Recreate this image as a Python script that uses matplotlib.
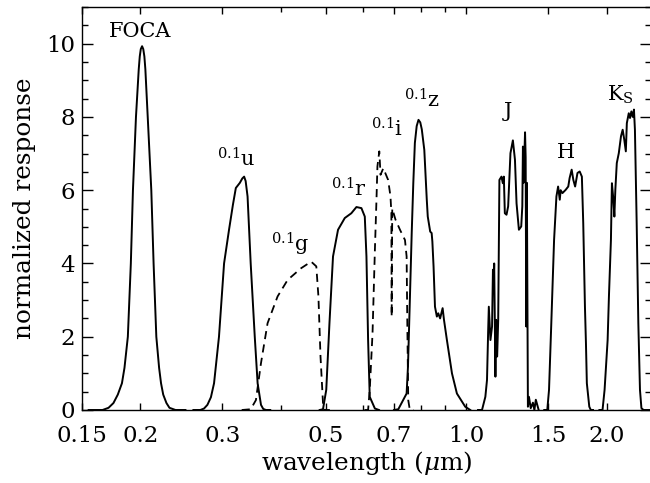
import matplotlib
matplotlib.use("Agg")
import matplotlib.pyplot as plt
from matplotlib.ticker import FixedLocator, NullFormatter, MultipleLocator

plt.rcParams['font.family'] = ['DejaVu Serif']
plt.rcParams['mathtext.fontset'] = 'dejavuserif'

# ---- filter curves (wavelength in micron, normalized response) ----
foca_wl = [0.155, 0.166, 0.171, 0.1752, 0.179, 0.1827, 0.185, 0.1881, 0.1909, 0.1929, 0.1958,
           0.1985, 0.1995, 0.2005, 0.2018, 0.203, 0.2041, 0.2051, 0.2075, 0.2112, 0.2136,
           0.2165, 0.2195, 0.2216, 0.224, 0.2276, 0.231, 0.238, 0.25]
foca_r = [0, 0, 0.06, 0.19, 0.42, 0.73, 1.15, 2.0, 4.0, 6.0, 8.0,
          9.3, 9.65, 9.85, 9.93, 9.85, 9.65, 9.3, 8.0, 6.0, 4.0,
          2.0, 1.15, 0.73, 0.42, 0.19, 0.06, 0, 0]

u_wl = [0.26, 0.269, 0.274, 0.2786, 0.2835, 0.2879, 0.295, 0.3025, 0.310, 0.316, 0.3206,
        0.327, 0.331, 0.334, 0.3365, 0.3397, 0.345, 0.352, 0.357, 0.363, 0.367, 0.372, 0.38]
u_r = [0, 0, 0.04, 0.14, 0.35, 0.73, 2.0, 4.0, 4.92, 5.6, 6.06,
       6.2, 6.32, 6.37, 6.25, 5.83, 4.0, 2.0, 0.73, 0.14, 0.03, 0, 0]

g_wl = [0.33, 0.345, 0.354, 0.363, 0.375, 0.394, 0.414, 0.4425, 0.465, 0.477, 0.482,
        0.487, 0.493, 0.497, 0.51]
g_r = [0, 0.02, 0.27, 1.28, 2.37, 3.10, 3.55, 3.87, 4.05, 3.92, 3.1,
       1.46, 0.19, 0, 0]

r_wl = [0.485, 0.493, 0.501, 0.509, 0.518, 0.531, 0.549, 0.567, 0.5815, 0.596, 0.606,
        0.611, 0.616, 0.621, 0.637, 0.65]
r_r = [0, 0.02, 0.55, 2.37, 4.19, 4.92, 5.24, 5.37, 5.54, 5.51, 5.28,
       4.19, 1.91, 0.36, 0.04, 0]

i_wl = [0.605, 0.616, 0.621, 0.6296, 0.637, 0.642, 0.645, 0.651, 0.655, 0.664, 0.680,
        0.688, 0.691, 0.692, 0.694, 0.705, 0.721, 0.739, 0.745, 0.748, 0.751, 0.757, 0.77]
i_r = [0, 0, 0.55, 2.09, 4.37, 5.74, 6.65, 7.06, 6.42, 6.6, 6.28,
       5.83, 5.37, 2.55, 5.5, 5.2, 4.92, 4.64, 4.19, 2.1, 0.27, 0, 0]

z_wl = [0.70, 0.715, 0.745, 0.750, 0.757, 0.764, 0.770, 0.776, 0.783, 0.790, 0.797, 0.803, 0.813,
        0.823, 0.827, 0.837, 0.843, 0.846, 0.851, 0.857, 0.865, 0.871, 0.879, 0.890,
        0.896, 0.909, 0.932, 0.955, 0.995, 1.02]
z_r = [0, 0.02, 0.45, 1.18, 3.0, 4.83, 6.19, 7.29, 7.75, 7.92, 7.85, 7.66, 7.10,
       5.74, 5.28, 4.87, 4.83, 4.6, 3.92, 2.82, 2.55, 2.64, 2.5, 2.78,
       2.46, 1.91, 1.0, 0.45, 0.09, 0]

j_wl = [1.06, 1.081, 1.099, 1.108, 1.114, 1.118, 1.127, 1.136, 1.141, 1.145, 1.148,
        1.155, 1.159, 1.165, 1.171, 1.178, 1.19, 1.198, 1.204, 1.210, 1.22, 1.23,
        1.244, 1.259, 1.272, 1.282, 1.297, 1.312, 1.319, 1.323, 1.327, 1.337, 1.341,
        1.345, 1.349, 1.356, 1.363, 1.375, 1.39, 1.40, 1.41, 1.43]
j_r = [0, 0, 0.36, 0.82, 2.09, 2.82, 1.91, 2.28, 3.83, 3.4, 4.0,
       0.91, 2.46, 1.46, 2.46, 6.28, 6.37, 6.19, 6.37, 5.37, 5.33, 5.56,
       7.01, 7.36, 6.83, 5.64, 4.92, 5.01, 5.56, 7.19, 6.2, 7.58, 6.9,
       2.28, 6.2, 0.09, 0.36, 0.05, 0.2, 0.0, 0.28, 0]

h_wl = [1.47, 1.492, 1.505, 1.522, 1.543, 1.561, 1.574, 1.587, 1.594, 1.608, 1.634,
        1.655, 1.666, 1.683, 1.697, 1.712, 1.732, 1.751, 1.77, 1.782, 1.797, 1.806,
        1.814, 1.836, 1.85, 1.87]
h_r = [0, 0, 0.55, 2.37, 4.64, 5.83, 6.10, 5.74, 6.0, 5.92, 6.01,
       6.1, 6.33, 6.56, 6.28, 6.1, 6.47, 6.51, 6.37, 5.1, 2.82, 1.82,
       0.73, 0.09, 0, 0]

k_wl = [1.93, 1.96, 1.98, 2.01, 2.023, 2.043, 2.053, 2.068, 2.078, 2.088, 2.103,
        2.124, 2.147, 2.165, 2.182, 2.199, 2.21, 2.231, 2.245, 2.26, 2.275, 2.289,
        2.30, 2.32, 2.339, 2.358, 2.375, 2.40, 2.49]
k_r = [0, 0, 0.55, 1.91, 3.1, 4.64, 6.19, 5.74, 5.28, 6.01, 6.74,
       7.01, 7.47, 7.65, 7.38, 7.06, 7.83, 8.10, 7.97, 8.15, 8.0, 8.20,
       7.65, 5.1, 2.37, 0.55, 0.05, 0, 0]

solid_bands = [(foca_wl, foca_r), (u_wl, u_r), (r_wl, r_r), (z_wl, z_r),
               (j_wl, j_r), (h_wl, h_r), (k_wl, k_r)]
dashed_bands = [(g_wl, g_r), (i_wl, i_r)]

band_labels = ['FOCA', r'$^{0.1}$u', r'$^{0.1}$g', r'$^{0.1}$r', r'$^{0.1}$i',
               r'$^{0.1}$z', 'J', 'H', r'K$_{\mathrm{S}}$']
label_x = [0.200, 0.322, 0.420, 0.560, 0.677, 0.803, 1.228, 1.635, 2.14]
label_y = [10.19, 6.64, 4.32, 5.82, 7.46, 8.25, 8.0, 6.89, 8.44]

xticks_major = [0.15, 0.2, 0.3, 0.5, 0.7, 1.0, 1.5, 2.0]
xticks_minor = [0.4, 0.6, 0.8, 0.9]
xtick_labels = ['0.15', '0.2', '0.3', '0.5', '0.7', '1.0', '1.5', '2.0']

fig = plt.figure(figsize=(6.5, 4.83), dpi=100)
ax = fig.add_axes([82 / 650, 73 / 483, 569 / 650, 403 / 483])

for wl, r in solid_bands:
    ax.plot(wl, r, color='black', lw=1.4, solid_joinstyle='round')
for wl, r in dashed_bands:
    ax.plot(wl, r, color='black', lw=1.3, linestyle=(0, (4.5, 3)))

for lab, x, y in zip(band_labels, label_x, label_y):
    ax.text(x, y, lab, ha='center', va='baseline', fontsize=15)

ax.set_xscale('log')
ax.set_xlim(0.15, 2.49)
ax.set_ylim(0, 11)
ax.xaxis.set_major_locator(FixedLocator(xticks_major))
ax.xaxis.set_minor_locator(FixedLocator(xticks_minor))
ax.set_xticklabels(xtick_labels)
ax.xaxis.set_minor_formatter(NullFormatter())
ax.yaxis.set_major_locator(MultipleLocator(2))
ax.yaxis.set_minor_locator(MultipleLocator(0.5))

ax.tick_params(axis='both', which='both', direction='in', top=True, right=True,
               labelsize=16.5, width=1.0, color='black')
ax.tick_params(axis='x', which='major', length=5, pad=11)
ax.tick_params(axis='x', which='minor', length=3.5)
ax.tick_params(axis='y', which='major', length=8, pad=5)
ax.tick_params(axis='y', which='minor', length=4.5)
for s in ax.spines.values():
    s.set_linewidth(1.0)

ax.set_xlabel(r'wavelength ($\mu$m)', fontsize=17.8, labelpad=1)
ax.set_ylabel('normalized response', fontsize=17.8, labelpad=7)

fig.savefig('out.png', dpi=100)
